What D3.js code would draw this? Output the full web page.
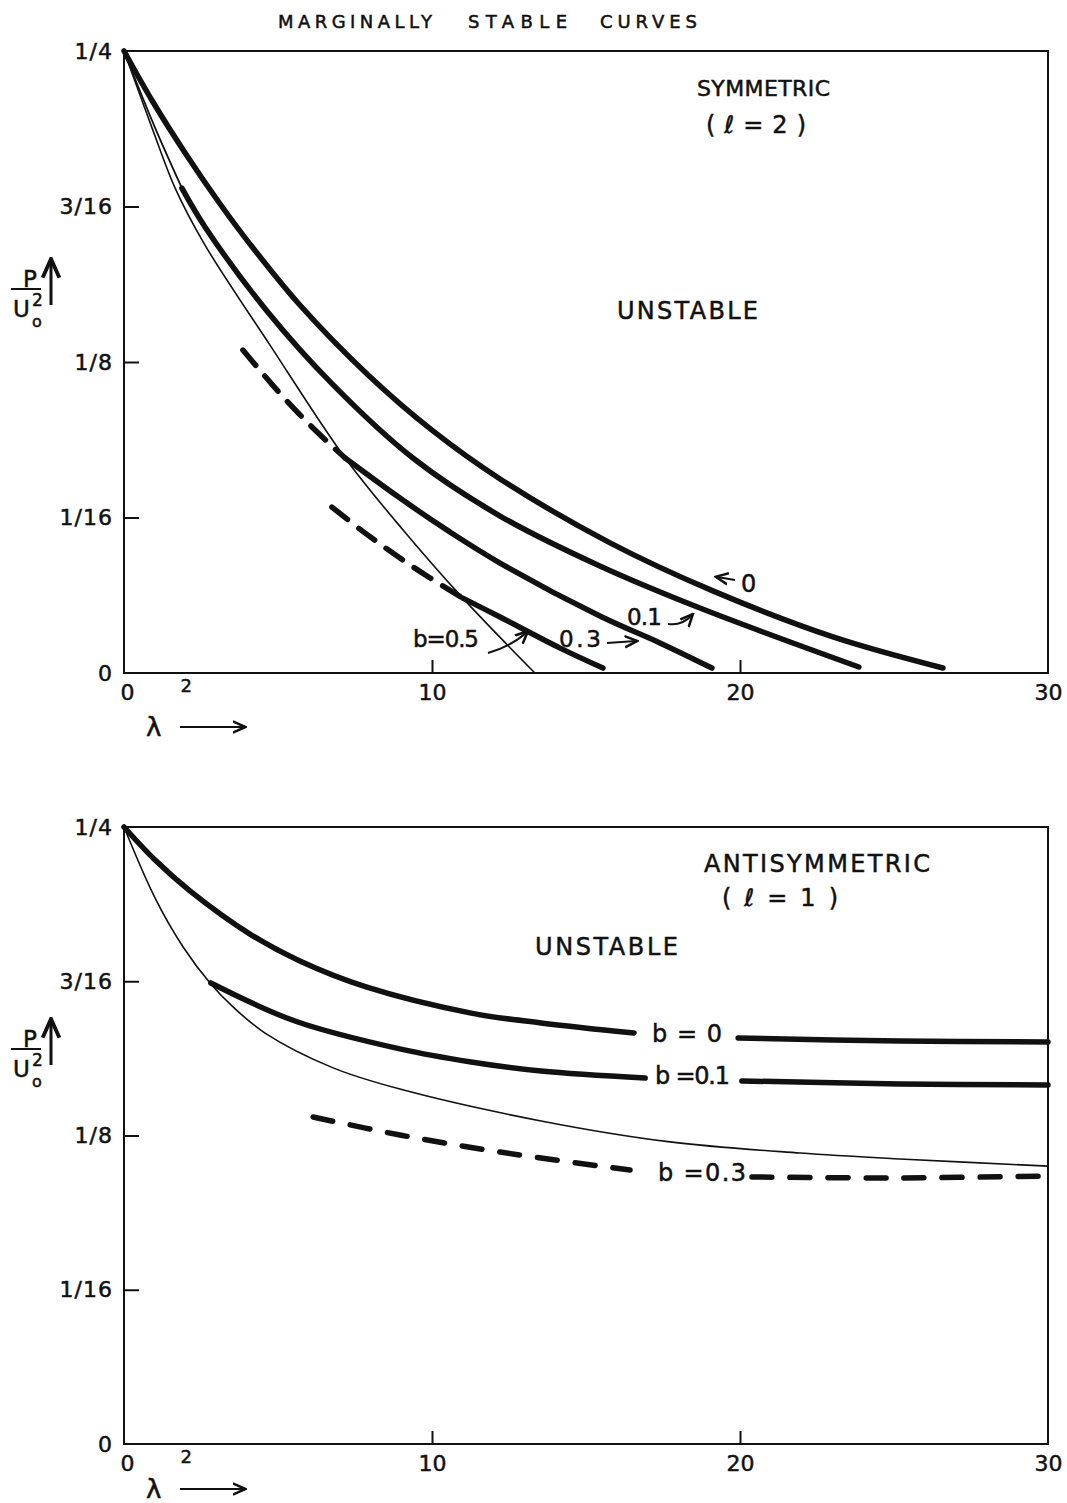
<!DOCTYPE html>
<html>
<head>
<meta charset="utf-8">
<script src="https://cdn.jsdelivr.net/npm/d3@7"></script>
<style>
  body { margin: 0; background: #fff; }
  text { font-family: "DejaVu Sans", sans-serif; fill: #111; stroke: #111; stroke-width: 0.5px; }
</style>
</head>
<body>
<svg id="chart" width="1067" height="1503"></svg>
<script>
// ---- axis ticks -------------------------------------------------------
const yTickValues = [0, 1/16, 1/8, 3/16, 1/4];
const yTickLabels = ["0", "1/16", "1/8", "3/16", "1/4"];
const xTickValues = [0, 2, 10, 20, 30];
const xTickLabels = ["0", "2", "10", "20", "30"];
const xInnerTicks = [10, 20];

// ---- symmetric mode (l = 2): [lambda, P/U0^2] --------------------------
const symB0      = [[0,0.25],[0.94,0.2295],[2.05,0.2078],[3.12,0.1885],[4.09,0.1724],[5.71,0.1479],[7.89,0.1202],[10.03,0.0973],[12.21,0.0780],[15.78,0.0523],[19.12,0.0330],[23.02,0.0145],[26.59,0.0020]];
const symB01Thin = [[0,0.25],[1.01,0.2191],[1.88,0.1949]];
const symB01     = [[1.88,0.1949],[2.63,0.1793],[4.64,0.1455],[6.79,0.1158],[9.38,0.0864],[12.21,0.0631],[15.45,0.0430],[18.70,0.0261],[23.86,0.0024]];
const symB03Dash = [[3.86,0.1298],[4.97,0.1137],[5.94,0.1009],[6.79,0.0908],[7.18,0.0864]];
const symB03     = [[7.18,0.0864],[8.96,0.0703],[10.58,0.0567],[12.21,0.0442],[15.45,0.0229],[17.40,0.0121],[19.09,0.0020]];
const symB05Dash = [[6.75,0.0667],[7.82,0.0563],[8.96,0.0462],[9.94,0.0382],[11.0,0.0301]];
const symB05     = [[11.0,0.0301],[12.21,0.0225],[14.16,0.0100],[15.55,0.0020]];
const symEnv     = [[0,0.25],[0.91,0.2191],[1.66,0.1949],[2.63,0.1720],[4.74,0.1318],[7.18,0.0864],[9.06,0.0575],[11.0,0.0301],[13.34,0]];

// ---- antisymmetric mode (l = 1) -----------------------------------------
const antiB0L  = [[0,0.25],[1.01,0.2366],[2.14,0.2241],[4.09,0.2066],[5.71,0.1957],[7.86,0.1852],[11.27,0.1746],[13.54,0.1706],[16.56,0.1665]];
const antiB0R  = [[19.94,0.1645],[25.19,0.1633],[30,0.1629]];
const antiB01L = [[2.82,0.1868],[5.55,0.1714],[8.99,0.1600],[11.27,0.1548],[13.54,0.1511],[16.92,0.1483]];
const antiB01R = [[20.06,0.1471],[25.19,0.1459],[30,0.1455]];
const antiB03L = [[6.14,0.1325],[8.96,0.1252],[12.21,0.1183],[16.43,0.1110]];
const antiB03R = [[20.39,0.1082],[25.19,0.1078],[30,0.1086]];
const antiEnv  = [[0,0.25],[1.01,0.2212],[1.92,0.2014],[2.82,0.1864],[3.54,0.1771],[4.58,0.1665],[6.79,0.1524],[8.96,0.1438],[13.54,0.1309],[17.73,0.1224],[21.95,0.1179],[25.19,0.1155],[30,0.1126]];

const svg = d3.select("#chart");

svg.append("defs").append("marker")
  .attr("id", "head").attr("viewBox", "0 0 10 10")
  .attr("refX", 8).attr("refY", 5)
  .attr("markerWidth", 7).attr("markerHeight", 7)
  .attr("orient", "auto-start-reverse")
  .append("path").attr("d", "M0,1 L9,5 L0,9").attr("fill", "none")
  .attr("stroke", "#111").attr("stroke-width", 1.8);

// title
[["MARGINALLY", 278, 154], ["STABLE", 468, 99], ["CURVES", 600, 97]].forEach(([t, x, w]) => {
  svg.append("text").attr("x", x).attr("y", 28).attr("font-size", 18)
    .attr("textLength", w).attr("lengthAdjust", "spacing").text(t);
});

function drawPanel(cfg) {
  const x = d3.scaleLinear().domain([0, 30]).range([124, 1048]);
  const y = d3.scaleLinear().domain([0, 0.25]).range([cfg.bottom, cfg.top]);
  const g = svg.append("g");
  const line = d3.line().x(d => x(d[0])).y(d => y(d[1])).curve(d3.curveCatmullRom.alpha(0.5));

  // frame
  g.append("rect").attr("x", x(0)).attr("y", y(0.25))
    .attr("width", x(30) - x(0)).attr("height", y(0) - y(0.25))
    .attr("fill", "none").attr("stroke", "#111").attr("stroke-width", 2);

  // y axis with inward ticks
  const ya = g.append("g").attr("transform", `translate(${x(0)},0)`)
    .call(d3.axisLeft(y).tickValues(yTickValues)
      .tickFormat((d, i) => yTickLabels[i]).tickSize(-15).tickPadding(11));
  ya.select(".domain").remove();
  ya.selectAll(".tick line").attr("stroke", "#111").attr("stroke-width", 2)
    .filter(d => d === 0.25 || d === 0).remove();
  ya.selectAll(".tick text").attr("font-size", 22).attr("font-family", "DejaVu Sans")
    .attr("fill", "#111").attr("letter-spacing", 1);

  // x axis labels
  const xa = g.append("g").attr("transform", `translate(0,${y(0)})`)
    .call(d3.axisBottom(x).tickValues(xTickValues)
      .tickFormat((d, i) => xTickLabels[i]).tickSize(0).tickPadding(11));
  xa.select(".domain").remove();
  xa.selectAll(".tick text").attr("font-family", "DejaVu Sans").attr("fill", "#111")
    .attr("font-size", d => d === 2 ? 18 : 22)
    .attr("dy", d => d === 2 ? "0.45em" : "0.71em")
    .attr("dx", d => d === 0 ? 3 : 0);

  // inward x ticks
  const xt = g.append("g").attr("transform", `translate(0,${y(0)})`)
    .call(d3.axisBottom(x).tickValues(xInnerTicks).tickFormat("").tickSize(-13));
  xt.select(".domain").remove();
  xt.selectAll(".tick line").attr("stroke", "#111").attr("stroke-width", 2);

  // curves
  cfg.curves.forEach(c => {
    g.append("path").attr("d", line(c.data)).attr("fill", "none")
      .attr("stroke", "#111").attr("stroke-width", c.w)
      .attr("stroke-linecap", "round").attr("stroke-linejoin", "round")
      .attr("stroke-dasharray", c.dash || null);
  });

  // lambda label and arrow
  g.append("text").attr("x", 146).attr("y", cfg.lamY).attr("font-size", 26).text("λ");
  g.append("line").attr("x1", 180).attr("x2", 244)
    .attr("y1", cfg.lamY - 9).attr("y2", cfg.lamY - 9)
    .attr("stroke", "#111").attr("stroke-width", 2).attr("marker-end", "url(#head)");

  // P / U0^2 label with upward arrow
  const b = cfg.barY;
  g.append("text").attr("x", 23).attr("y", b - 2).attr("font-size", 23).text("P");
  g.append("line").attr("x1", 11).attr("x2", 41).attr("y1", b).attr("y2", b)
    .attr("stroke", "#111").attr("stroke-width", 2);
  g.append("text").attr("x", 13).attr("y", b + 28).attr("font-size", 23).text("U");
  g.append("text").attr("x", 32).attr("y", b + 17).attr("font-size", 17).text("2");
  g.append("text").attr("x", 32).attr("y", b + 38).attr("font-size", 16).text("o");
  g.append("line").attr("x1", 51).attr("x2", 51).attr("y1", b + 16).attr("y2", b - 28)
    .attr("stroke", "#111").attr("stroke-width", 3).attr("marker-end", "url(#head)");

  cfg.texts.forEach(t => {
    const el = g.append("text").attr("x", t.x).attr("y", t.y).attr("font-size", t.size || 22).text(t.s);
    if (t.w) el.attr("textLength", t.w).attr("lengthAdjust", "spacing");
  });
  (cfg.arrows || []).forEach(a => {
    g.append("path").attr("d", a).attr("fill", "none").attr("stroke", "#111")
      .attr("stroke-width", 2).attr("marker-end", "url(#head)");
  });
}

drawPanel({
  top: 51, bottom: 673, barY: 289, lamY: 736,
  curves: [
    { data: symEnv, w: 1.6 },
    { data: symB01Thin, w: 1.8 },
    { data: symB0, w: 5.5 },
    { data: symB01, w: 5.5 },
    { data: symB03Dash, w: 5.5, dash: "20 14" },
    { data: symB03, w: 5.5 },
    { data: symB05Dash, w: 5.5, dash: "20 14" },
    { data: symB05, w: 5.5 }
  ],
  texts: [
    { s: "SYMMETRIC", x: 697, y: 96, size: 22, w: 133 },
    { s: "( ℓ = 2 )", x: 706, y: 133, size: 24, w: 100 },
    { s: "UNSTABLE", x: 617, y: 319, size: 24, w: 141 },
    { s: "0", x: 741, y: 592, size: 24 },
    { s: "0.1", x: 627, y: 625, size: 23, w: 35 },
    { s: "0.3", x: 559, y: 647, size: 23, w: 42 },
    { s: "b=0.5", x: 413, y: 647, size: 23, w: 66 }
  ],
  arrows: [
    "M735,580 L717,577",
    "M668,624 Q682,626 692,615",
    "M607,643 L636,641",
    "M488,653 Q512,646 527,632"
  ]
});

drawPanel({
  top: 827, bottom: 1444, barY: 1049, lamY: 1498,
  curves: [
    { data: antiEnv, w: 1.6 },
    { data: antiB0L, w: 5.5 },
    { data: antiB0R, w: 5.5 },
    { data: antiB01L, w: 5.5 },
    { data: antiB01R, w: 5.5 },
    { data: antiB03L, w: 5.5, dash: "20 18" },
    { data: antiB03R, w: 5.5, dash: "20 18" }
  ],
  texts: [
    { s: "ANTISYMMETRIC", x: 704, y: 872, size: 24, w: 226 },
    { s: "( ℓ = 1 )", x: 722, y: 906, size: 24, w: 116 },
    { s: "UNSTABLE", x: 535, y: 955, size: 24, w: 143 },
    { s: "b = 0", x: 652, y: 1042, size: 24, w: 70 },
    { s: "b =0.1", x: 655, y: 1084, size: 24, w: 75 },
    { s: "b =0.3", x: 658, y: 1181, size: 24, w: 88 }
  ]
});
</script>
</body>
</html>
